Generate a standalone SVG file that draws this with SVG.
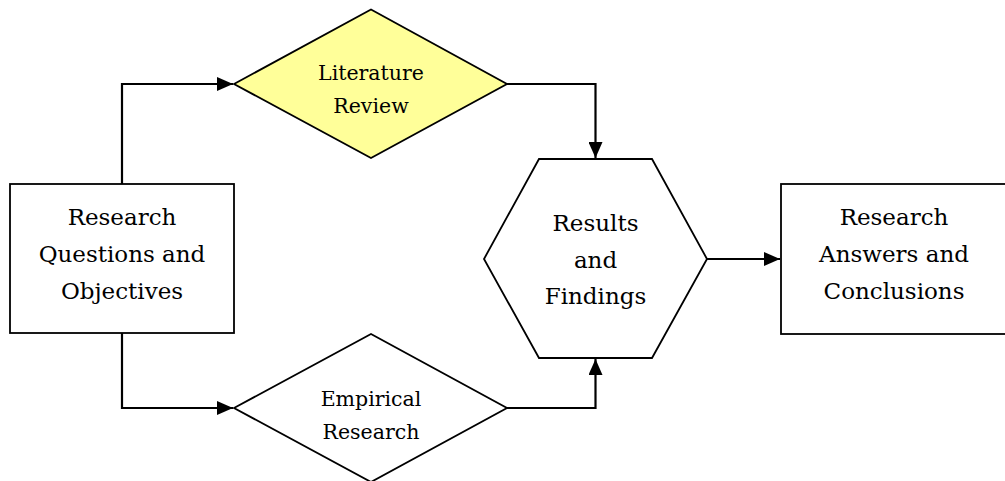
<svg xmlns="http://www.w3.org/2000/svg" width="1005" height="481" viewBox="0 0 1005 481">
<style>
.shape{stroke:#000;stroke-width:1.8;fill:#fff}
.yellow{fill:#FFFF99}
.big{font-family:"DejaVu Serif","Liberation Serif",serif;font-size:23px;fill:#000;text-anchor:middle}
.small{font-family:"DejaVu Serif","Liberation Serif",serif;font-size:20.5px;fill:#000;text-anchor:middle}
.conn{stroke:#000;stroke-width:2.2;fill:none}
</style>
<defs>
<marker id="arr" markerWidth="16" markerHeight="14" refX="16" refY="7" orient="auto" markerUnits="userSpaceOnUse">
<path d="M0,0 L16,7 L0,14 Z" fill="#000"/>
</marker>
</defs>
<g id="connectors">
<path class="conn" d="M122,184 V84 H233" marker-end="url(#arr)"/>
<path class="conn" d="M122,333 V408 H233" marker-end="url(#arr)"/>
<path class="conn" d="M507,84 H595.5 V158" marker-end="url(#arr)"/>
<path class="conn" d="M507,408 H595.5 V359" marker-end="url(#arr)"/>
<path class="conn" d="M707,259 H780" marker-end="url(#arr)"/>
</g>
<g id="questions">
<rect class="shape" x="10" y="184" width="224" height="149"/>
<text class="big" x="122" y="225">Research</text>
<text class="big" x="122" y="262">Questions and</text>
<text class="big" x="122" y="299">Objectives</text>
</g>
<g id="literature">
<polygon class="shape yellow" points="234,84 371,9.5 507,84 371,158"/>
<text class="small" x="371" y="80">Literature</text>
<text class="small" x="371" y="113">Review</text>
</g>
<g id="empirical">
<polygon class="shape" points="234,408 371,334 507,408 371,482"/>
<text class="small" x="371" y="406">Empirical</text>
<text class="small" x="371" y="439">Research</text>
</g>
<g id="results">
<polygon class="shape" points="539,159 652,159 707,259 652,358 539,358 484,259"/>
<text class="big" x="595.5" y="231">Results</text>
<text class="big" x="595.5" y="268">and</text>
<text class="big" x="595.5" y="304">Findings</text>
</g>
<g id="answers">
<rect class="shape" x="781" y="184" width="240" height="150"/>
<text class="big" x="894" y="225">Research</text>
<text class="big" x="894" y="262">Answers and</text>
<text class="big" x="894" y="299">Conclusions</text>
</g>
</svg>
